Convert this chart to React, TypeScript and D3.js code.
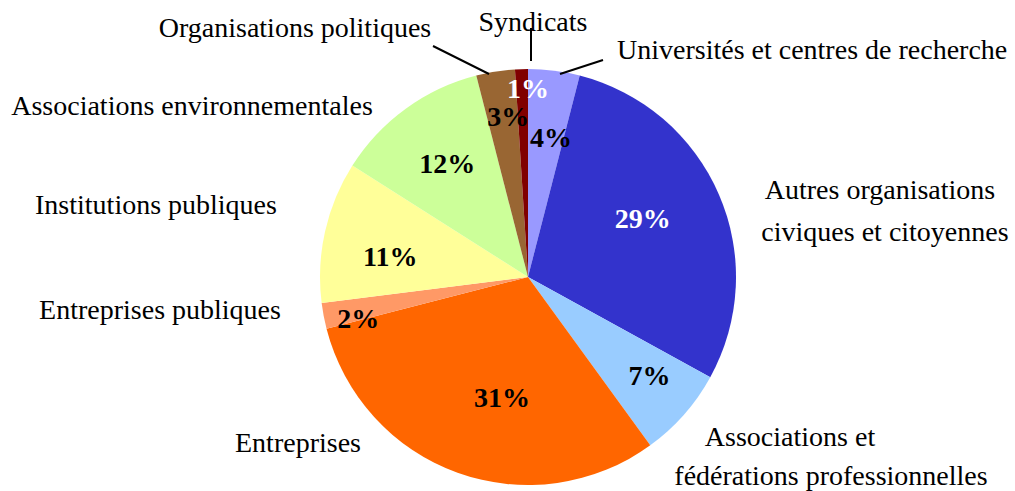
import React from "react";
import * as d3 from "d3";

const categories = [
  "Universités et centres de recherche",
  "Autres organisations civiques et citoyennes",
  "Associations et fédérations professionnelles",
  "Entreprises",
  "Entreprises publiques",
  "Institutions publiques",
  "Associations environnementales",
  "Organisations politiques",
  "Syndicats",
];
const values = [4, 29, 7, 31, 2, 11, 12, 3, 1];
const colors = ["#9999FF", "#3333CC", "#99CCFF", "#FF6600", "#FF9966", "#FFFF99", "#CCFF99", "#996633", "#800000"];
const pctColors = ["#000", "#fff", "#000", "#000", "#000", "#000", "#000", "#000", "#fff"];

// label placement (radius factor, angle offset in degrees)
const pctRadius = [0.68, 0.62, 0.75, 0.59, 0.84, 0.67, 0.67, 0.78, 0.91];
const pctAngleOff = [2.2, -3.8, -2.6, -7.6, -2.8, -4, 0.6, 2, 1.8];

// category name lines: [text, x, y, anchor]
const nameLines: [string, number, number, string][] = [
  ["Universités et centres de recherche", 617, 59, "start"],
  ["Autres organisations", 880, 199, "middle"],
  ["civiques et citoyennes", 885, 241, "middle"],
  ["Associations et", 790, 446, "middle"],
  ["fédérations professionnelles", 831, 485, "middle"],
  ["Entreprises", 298, 452, "middle"],
  ["Entreprises publiques", 160, 319, "middle"],
  ["Institutions publiques", 156, 214, "middle"],
  ["Associations environnementales", 192, 115, "middle"],
  ["Organisations politiques", 295, 37, "middle"],
  ["Syndicats", 533, 31, "middle"],
];
// leader lines [x1,y1,x2,y2]
const leaders: [number, number, number, number][] = [
  [603, 60, 560, 74],
  [531, 28, 531, 61],
  [433, 46, 489, 74],
];

export default function App() {
  const W = 1015, H = 491;
  const cx = 528, cy = 277, R = 208;
  const pie = d3.pie<number>().value((d) => d).sort(null);
  const arcs = pie(values);
  const arc = d3.arc<d3.PieArcDatum<number>>().innerRadius(0).outerRadius(R);
  return (
    <svg width={W} height={H} style={{ position: "absolute", left: 0, top: 0, background: "#fff" }}
      fontFamily="'Liberation Serif', 'Times New Roman', serif">
      <g transform={`translate(${cx},${cy})`}>
        {arcs.map((a, i) => (
          <path key={i} d={arc(a) || ""} fill={colors[i]} />
        ))}
        {arcs.map((a, i) => {
          const mid = (a.startAngle + a.endAngle) / 2 + (pctAngleOff[i] * Math.PI) / 180;
          const r = R * pctRadius[i];
          const x = Math.sin(mid) * r;
          const y = -Math.cos(mid) * r;
          return (
            <text key={i} x={x} y={y} dy="0.35em" textAnchor="middle" fontWeight="bold" fontSize={28} fill={pctColors[i]}>
              {`${values[i]}%`}
            </text>
          );
        })}
      </g>
      {leaders.map((l, i) => (
        <line key={i} x1={l[0]} y1={l[1]} x2={l[2]} y2={l[3]} stroke="#000" strokeWidth={2} />
      ))}
      {nameLines.map((n, i) => (
        <text key={i} x={n[1]} y={n[2]} textAnchor={n[3] as any} fontSize={28} fill="#000">
          {n[0]}
        </text>
      ))}
    </svg>
  );
}
